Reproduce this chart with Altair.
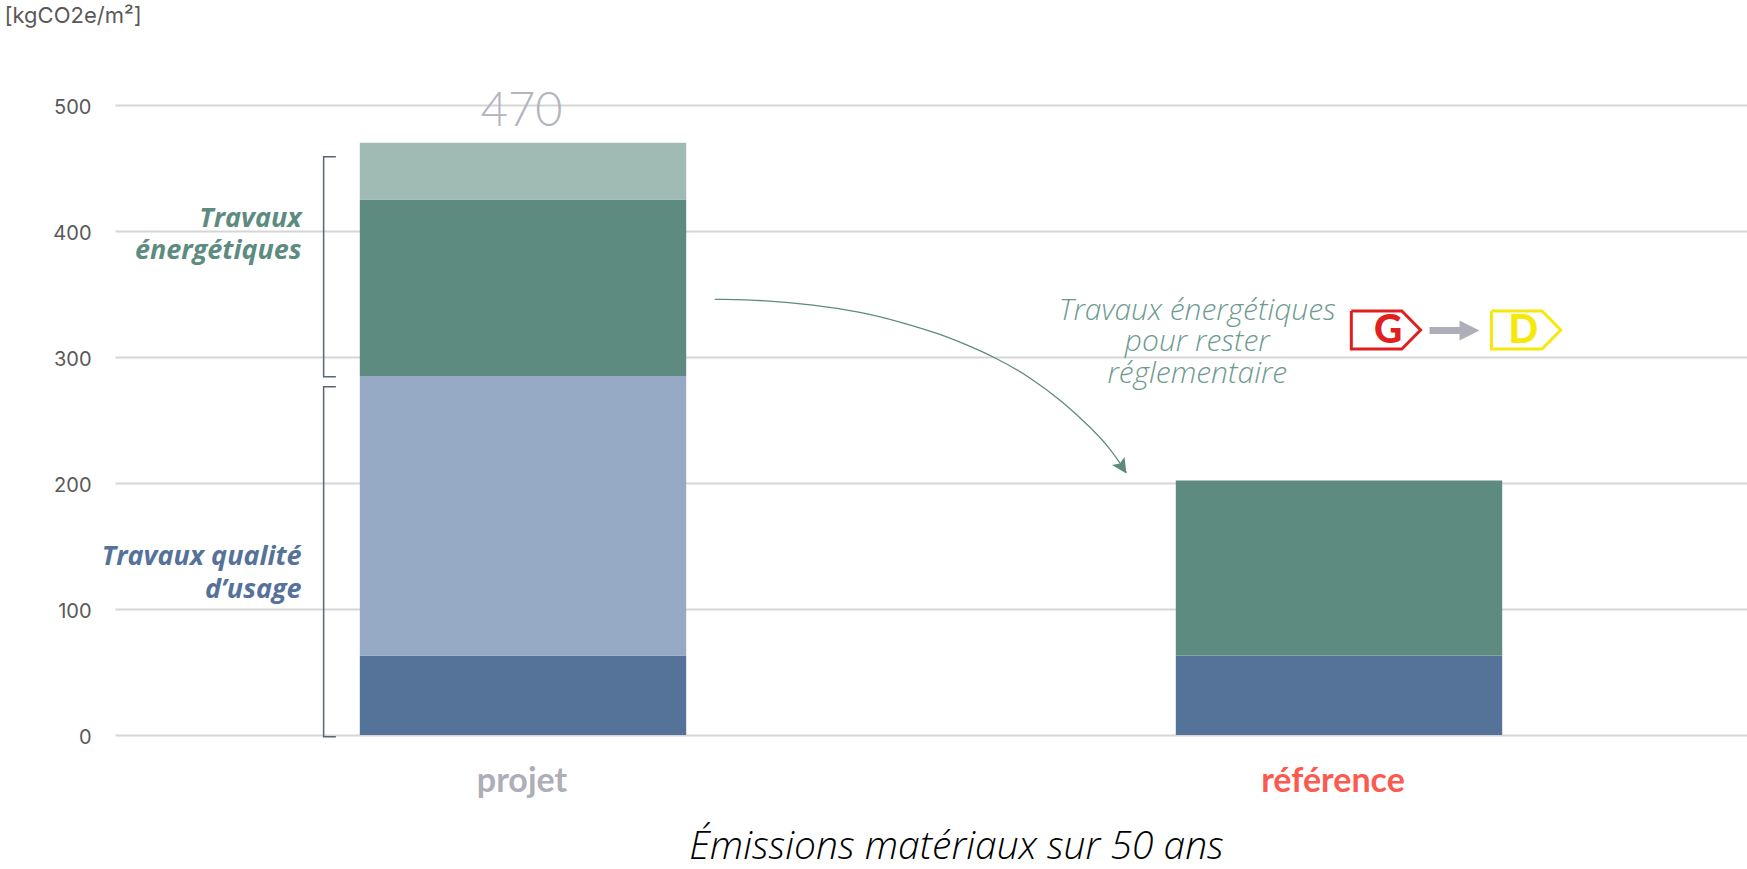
import altair as alt
import pandas as pd

# Stacked bars
categories = ["projet", "référence"]
seg_category = ["projet", "projet", "projet", "projet", "référence", "référence"]
seg_name = ["usage socle", "usage ajout", "énergie", "énergie ajout", "usage socle", "énergie"]
seg_rank = [0, 1, 2, 3, 0, 2]
seg_value = [63, 222, 140, 45, 63, 139]
seg_domain = ["usage socle", "usage ajout", "énergie", "énergie ajout"]
seg_colors = ["#557299", "#97aac5", "#5e8b7f", "#9fbbb4"]

project_total = sum(v for c, v in zip(seg_category, seg_value) if c == "projet")

FONT = "Lato"
NOTE_FONT = "Open Sans"
AXIS_FONT = "Inter"
GREEN = "#5e8b7f"
BLUE = "#55729b"
GREY = "#aeaeb8"

WIDTH, HEIGHT = 1632, 630
Y_SCALE = alt.Scale(domain=[0, 500], nice=False, zero=True)
U_SCALE = alt.Scale(domain=[0, 2.0025], nice=False, zero=False)
Y_AXIS = alt.Axis(
    values=[0, 100, 200, 300, 400, 500],
    title="[kgCO2e/m²]",
    titleFont=AXIS_FONT, titleFontSize=22, titleFontWeight=400, titleColor="#595959",
    titleAngle=0, titleX=-111, titleY=-83, titleAlign="left", titleBaseline="alphabetic",
    labelFont=AXIS_FONT, labelFontSize=20, labelColor="#595959",
    labelPadding=24, labelOffset=2,
    domain=False, ticks=False,
    grid=True, gridColor="#d6d6d6", gridWidth=2,
)

bars_df = pd.DataFrame({"categorie": seg_category, "poste": seg_name,
                        "rang": seg_rank, "valeur": seg_value})

bars = alt.Chart(bars_df).mark_bar(stroke=None).encode(
    x=alt.X(
        "categorie:N", sort=categories,
        scale=alt.Scale(paddingInner=0.6, paddingOuter=0.3),
        axis=alt.Axis(
            title="Émissions matériaux sur 50 ans",
            titleFont=NOTE_FONT, titleFontSize=39, titleFontStyle="italic", titleFontWeight=300,
            titleColor="#000000", titleX=841, titleY=123, titleAlign="center",
            titleBaseline="alphabetic",
            labelAngle=0, labelFont=FONT, labelFontSize=34, labelFontWeight="bold",
            labelColor=alt.condition("datum.value == 'projet'", alt.value(GREY), alt.value("#fb5a50")),
            labelOffset=alt.condition("datum.value == 'projet'", alt.value(-1), alt.value(-6)),
            labelPadding=56, labelBaseline="alphabetic",
            domain=False, ticks=False, grid=False,
        ),
    ),
    y=alt.Y("valeur:Q", stack="zero", scale=Y_SCALE, axis=Y_AXIS),
    color=alt.Color("poste:N", scale=alt.Scale(domain=seg_domain, range=seg_colors), legend=None),
    order=alt.Order("rang:Q"),
)


def text_layer(rows, **mark):
    """Text annotations placed in (u, valeur) data coordinates."""
    frame = pd.DataFrame(rows, columns=["u", "valeur", "texte"])
    return alt.Chart(frame).mark_text(**mark).encode(
        x=alt.X("u:Q", scale=U_SCALE, axis=None),
        y=alt.Y("valeur:Q", scale=Y_SCALE, axis=Y_AXIS),
        text="texte:N",
    )


def path_layer(rows, **mark):
    """Polylines that keep the order of their points."""
    frame = pd.DataFrame(rows, columns=["trace", "u", "valeur"])
    frame["i"] = range(len(frame))
    return alt.Chart(frame).mark_line(**mark).encode(
        x=alt.X("u:Q", scale=U_SCALE, axis=None),
        y=alt.Y("valeur:Q", scale=Y_SCALE, axis=Y_AXIS),
        detail="trace:N",
        order=alt.Order("i:Q"),
    )


def head_layer(u, valeur, size, angle, color, shape="M-1,-1L1,0L-1,1Z"):
    """Filled arrow head pointing along the given angle."""
    frame = pd.DataFrame({"u": [u], "valeur": [valeur]})
    return alt.Chart(frame).mark_point(
        shape=shape, filled=True, opacity=1, size=size, angle=angle, color=color,
    ).encode(
        x=alt.X("u:Q", scale=U_SCALE, axis=None),
        y=alt.Y("valeur:Q", scale=Y_SCALE, axis=Y_AXIS),
    )


total_label = text_layer([[0.499, project_total, str(project_total)]],
                         font=FONT, fontSize=47, fontWeight=300, color="#b3b3bd",
                         align="center", baseline="alphabetic", dy=-17)

brackets = path_layer(
    [["énergie", 0.271, 459], ["énergie", 0.256, 459], ["énergie", 0.256, 284.4], ["énergie", 0.271, 284.4],
     ["usage", 0.271, 276.4], ["usage", 0.256, 276.4], ["usage", 0.256, -1.3], ["usage", 0.271, -1.3]],
    color="#5a6478", strokeWidth=1.5)

energy_labels = text_layer([[0.229, 403.5, "Travaux"], [0.229, 378, "énergétiques"]],
                           font=NOTE_FONT, fontSize=27, fontWeight="bold", fontStyle="italic",
                           color=GREEN, align="right", baseline="alphabetic")
usage_labels = text_layer([[0.229, 135, "Travaux qualité"], [0.229, 108.5, "d’usage"]],
                          font=NOTE_FONT, fontSize=27, fontWeight="bold", fontStyle="italic",
                          color=BLUE, align="right", baseline="alphabetic")

curve_u = [0.736, 0.800, 0.856, 0.914, 0.963, 1.012, 1.040, 1.080, 1.123, 1.163, 1.196, 1.221, 1.241]
curve_v = [345.8, 345, 341.5, 336, 328, 318.3, 311, 299.8, 284, 264.5, 244.7, 227.8, 208.2]
curve = path_layer([["courbe", u, v] for u, v in zip(curve_u, curve_v)],
                   color=GREEN, strokeWidth=1.3, interpolate="basis")
curve_head = head_layer(1.236, 212.5, 225, 57, GREEN, shape="M-1,-1L1,0L-1,1L-0.6,0Z")

note = text_layer([[1.328, 329.5, "Travaux énergétiques"], [1.328, 304.5, "pour rester"], [1.328, 279, "réglementaire"]],
                  font=NOTE_FONT, fontSize=30, fontWeight=300, fontStyle="italic",
                  color="#6e9a8f", align="center", baseline="alphabetic")

g_tag = path_layer(
    [["G", 1.517, 336.5], ["G", 1.579, 336.5], ["G", 1.602, 321.4], ["G", 1.579, 306.3], ["G", 1.517, 306.3], ["G", 1.517, 336.5]],
    color="#e02020", strokeWidth=3, strokeJoin="miter")
d_tag = path_layer(
    [["D", 1.689, 336.5], ["D", 1.751, 336.5], ["D", 1.774, 321.4], ["D", 1.751, 306.3], ["D", 1.689, 306.3], ["D", 1.689, 336.5]],
    color="#f5e80c", strokeWidth=3, strokeJoin="miter")
g_letter = text_layer([[1.562, 321, "G"]], font=FONT, fontSize=39, fontWeight=900, color="#e02020",
                      align="center", baseline="middle")
d_letter = text_layer([[1.728, 321, "D"]], font=FONT, fontSize=39, fontWeight=900, color="#f5e80c",
                      align="center", baseline="middle")
step_shaft = path_layer([["flèche", 1.613, 321], ["flèche", 1.653, 321]], color=GREY, strokeWidth=7)
step_head = head_layer(1.662, 321, 400, 0, GREY)

chart = alt.layer(
    bars, total_label, brackets, energy_labels, usage_labels, curve, curve_head, note,
    g_tag, d_tag, g_letter, d_letter, step_shaft, step_head,
).resolve_scale(x="independent").properties(
    width=WIDTH,
    height=HEIGHT,
    autosize=alt.AutoSizeParams(type="none"),
    padding={"left": 115, "top": 105, "right": 0, "bottom": 134},
    background="#ffffff",
).configure_view(stroke=None)

chart.save("out.html", embed_options={"renderer": "svg", "actions": False})
